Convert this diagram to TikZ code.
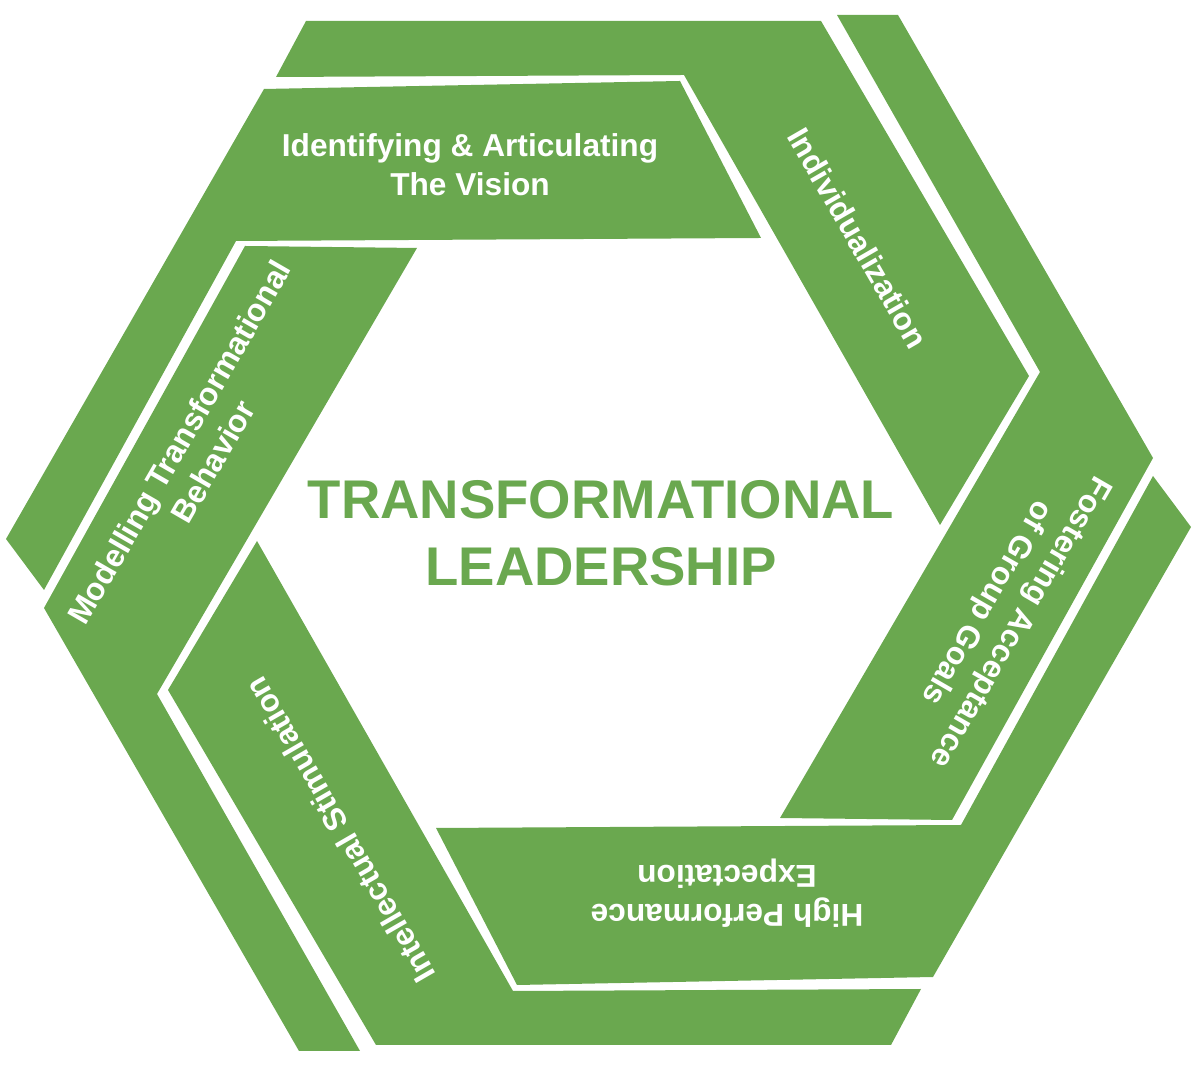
\documentclass[tikz,border=0pt]{standalone}
\usepackage{fontspec}
\setmainfont{Liberation Sans}
\definecolor{leafgreen}{RGB}{106,168,79}
\begin{document}
\begin{tikzpicture}[x=0.01cm, y=-0.01cm,
    piece/.style={fill=leafgreen, draw=none},
    label/.style={text=white, font=\bfseries\fontsize{9}{11}\selectfont, align=center},
    title/.style={text=leafgreen, font=\bfseries\fontsize{15.5}{19}\selectfont, align=center}]

    \useasboundingbox (0,0) rectangle (1200,1065);

    % Three pieces, then the same three turned half round
    \foreach \turn in {0,180} {
    \begin{scope}[rotate around={\turn:(598.5,533)}]
        \fill[piece] (264,89) -- (680,81) -- (761,238) -- (236,241) -- (44,590) -- (6,539) -- cycle;
        \fill[piece] (306,21) -- (821,21) -- (1029,376) -- (940,525) -- (684,75) -- (276,77) -- cycle;
        \fill[piece] (837,15) -- (898,15) -- (1153,458) -- (952,820) -- (780,818) -- (1040,372) -- cycle;
    \end{scope}
    }

    % Labels
    \node[label] (vision) at (470,165) {Identifying \& Articulating\\The Vision};
    \node[label, rotate=-60] (indiv) at (858,238) {Individualization};
    \node[label, rotate=-120] (goals) at (1003,612) {Fostering Acceptance\\of Group Goals};
    \node[label, rotate=180] (perf) at (727,893) {High Performance\\Expectation};
    \node[label, rotate=120] (stim) at (340,830) {Intellectual Stimulation};
    \node[label, rotate=60] (model) at (196,452) {Modelling Transformational\\Behavior};

    \node[title] (core) at (601,533) {TRANSFORMATIONAL\\LEADERSHIP};

\end{tikzpicture}
\end{document}
